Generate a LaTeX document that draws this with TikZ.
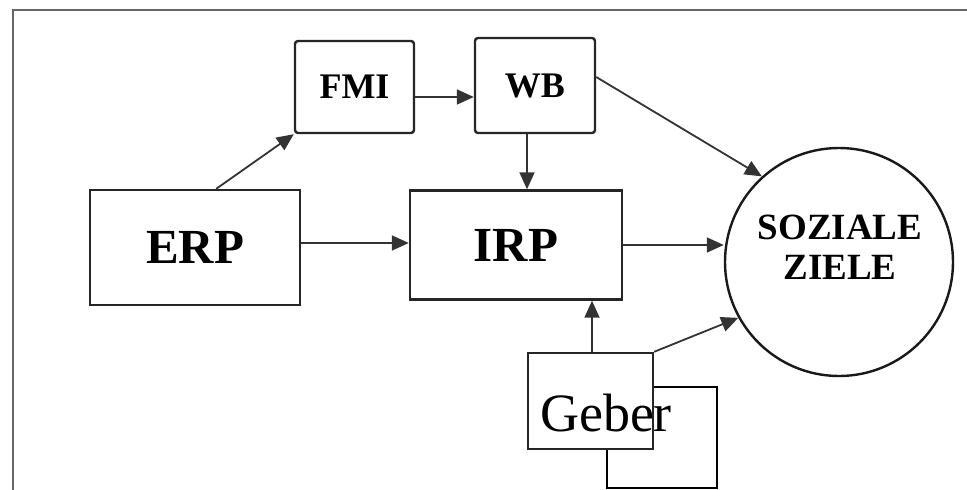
\documentclass[tikz,border=0pt]{standalone}
\usepackage{fontspec}
\setmainfont{Liberation Serif}
\usetikzlibrary{arrows.meta,calc}
\tikzset{
  box/.style={draw=black!85, line width=2.4pt, fill=white, inner sep=0pt},
  rbox/.style={box, rounded corners=3pt},
  conn/.style={draw=black!80, line width=1.8pt, -{Triangle[length=17pt,width=15pt]}},
  bigbold/.style={font=\fontsize{49}{52}\selectfont\bfseries},
  smallbold/.style={font=\fontsize{36}{40}\selectfont\bfseries},
}
\begin{document}
\begin{tikzpicture}[x=1pt,y=-1pt]
\useasboundingbox (0,0) rectangle (967,490);
% frame
\draw[black!60, line width=1.2pt] (13,490) -- (13,10) -- (967,10);
% boxes
\node[rbox, minimum width=119pt, minimum height=92pt, smallbold] (fmi) at (354.5,87) {FMI};
\node[rbox, minimum width=120pt, minimum height=95pt, smallbold] (wb) at (535,85.5) {WB};
\node[box, minimum width=210pt, minimum height=115pt, bigbold] (erp) at (195,247.5) {ERP};
\node[box, minimum width=212pt, minimum height=109pt, bigbold] (irp) at (516,245) {IRP};
\node[draw=black!90, line width=2.4pt, circle, minimum size=228pt, inner sep=0pt] (sz) at (839,262) {};
\node[font=\fontsize{37}{40}\selectfont\bfseries, align=center] (szt) at (840,247) {SOZIALE\\ZIELE};
% second rectangle behind Geber
\draw[black, line width=1.5pt] (607,488) rectangle (717,387);
\node[box, minimum width=125pt, minimum height=96pt] (geber) at (590.5,401) {};
\node[font=\fontsize{54}{58}\selectfont, anchor=base] (gebert) at (606,431) {Geber};
% connectors
\coordinate (erpout) at ($(erp.north west)!0.6!(erp.north east)$);
\draw[conn] (erpout) -- (fmi.south west);
\draw[conn] ([yshift=-10pt]fmi.east) -- ([yshift=-10pt]fmi.east -| wb.west);
\draw[conn] ([xshift=-8pt]wb.south) -- ([xshift=-8pt]wb.south |- irp.north);
\draw[conn] ([yshift=8.5pt]wb.east) -- (sz.132);
\draw[conn] (erp.east |- 0,243) -- (irp.west |- 0,243);
\draw[conn] (irp.east) -- (irp.east -| sz.west);
\draw[conn] ([xshift=1.5pt]geber.north) -- ([xshift=1.5pt]geber.north |- irp.south);
\draw[conn] (geber.north east) -- (sz.209);
\end{tikzpicture}
\end{document}
